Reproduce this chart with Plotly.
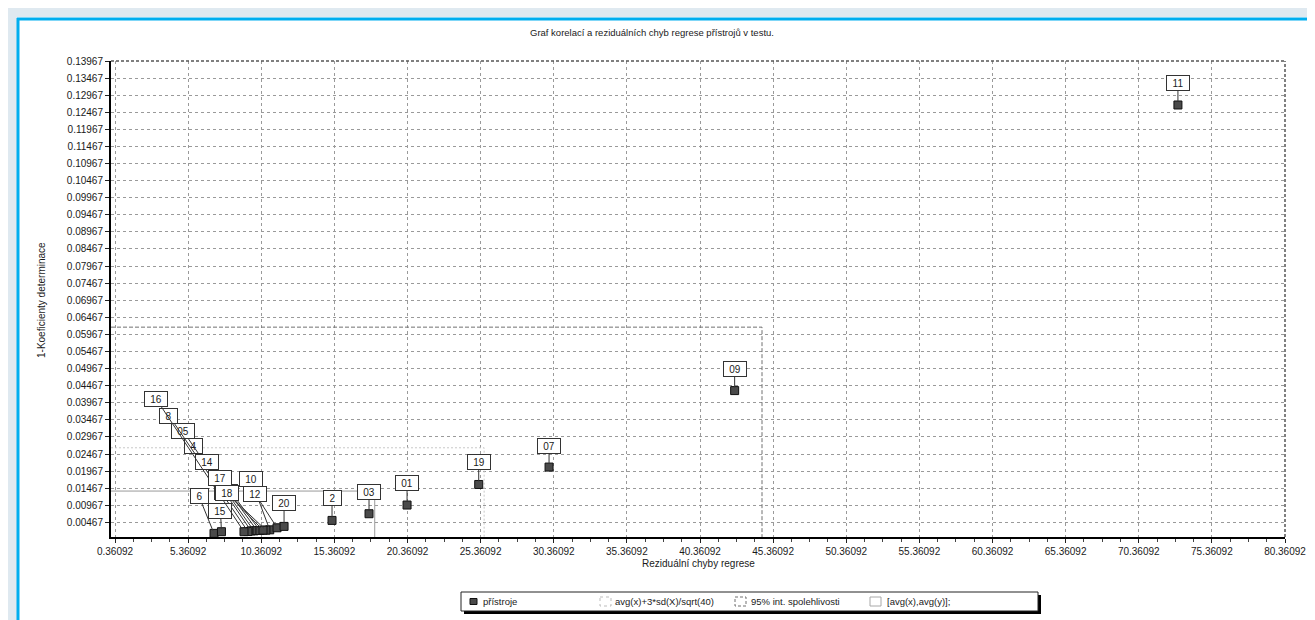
import plotly.graph_objects as go

# ---------------- data ----------------
names = ["01", "2", "03", "4", "05", "6", "07", "8", "09", "10",
         "11", "12", "13", "14", "15", "16", "17", "18", "19", "20"]
resid = [20.33, 15.20, 17.73, 9.86, 9.66, 7.13, 30.04, 9.45, 42.73, 10.94,
         73.04, 11.44, 10.68, 10.07, 7.64, 9.18, 10.27, 10.48, 25.23, 11.92]
one_minus_r2 = [0.00975, 0.00525, 0.00721, 0.0022, 0.0022, 0.00146, 0.02086, 0.0020, 0.04324, 0.0025,
                0.1268, 0.0031, 0.0024, 0.0023, 0.00195, 0.00195, 0.0023, 0.0024, 0.01577, 0.0035]

# reference rectangles (corner values)
avg_xy = (18.12, 0.01384)        # [avg(x),avg(y)]
lim3sd_xy = (25.6, 0.0265)       # avg(x)+3*sd(X)/sqrt(40)
ci95_xy = (44.6, 0.0618)         # 95% int. spolehlivosti

x_ticks = [0.36092 + 5 * k for k in range(17)]
y_ticks = [0.00467 + 0.005 * k for k in range(28)]
x_tick_text = ["%.5f" % v for v in x_ticks]
y_tick_text = ["%.5f" % v for v in y_ticks]

title_text = "Graf korelací a reziduálních chyb regrese přístrojů v testu."
x_title = "Reziduální chyby regrese"
y_title = "1-Koeficienty determinace"
legend_labels = ["přístroje", "avg(x)+3*sd(X)/sqrt(40)", "95% int. spolehlivosti", "[avg(x),avg(y)];"]

# label offsets (pixels, layout only)
label_offsets = {
    "01": (0, -22), "2": (0, -22), "03": (0, -22), "07": (0, -21), "09": (0, -22),
    "11": (0, -22), "19": (0, -22), "6": (-15, -37), "15": (-1, -21),
    "16": (-88, -133), "8": (-79, -116), "05": (-68, -100), "4": (-60, -85),
    "14": (-50, -69), "17": (-40, -53), "13": (-40, -38), "18": (-36, -37),
    "10": (-19, -51), "12": (-22, -34), "20": (0, -23),
}

XMIN, XMAX = 0.087, 80.36092
YMIN, YMAX = 0.0004, 0.13967

W, H = 1315, 620
L, R, T, B = 103, 38, 53, 91
PW, PH = W - L - R, H - T - B


def px(x):
    return (x - L) / PW


def py(y):
    return (H - B - y) / PH


FONT = "Liberation Sans, Arial, sans-serif"
TXT = "#1a1a1a"

fig = go.Figure()

# reference rectangles
def rect_trace(cx, cy, color, dash, width):
    return go.Scatter(x=[XMIN, cx, cx], y=[cy, cy, YMIN], mode="lines",
                      line=dict(color=color, dash=dash, width=width),
                      hoverinfo="skip", showlegend=False)

fig.add_trace(rect_trace(*lim3sd_xy, "#c8c8c8", "2px,2px", 1))
fig.add_trace(rect_trace(*ci95_xy, "#707070", "4px,2px", 1))
fig.add_trace(rect_trace(*avg_xy, "#9a9a9a", "solid", 1))

fig.add_trace(go.Scatter(
    x=resid, y=one_minus_r2, mode="markers", text=names,
    marker=dict(symbol="square", size=8, color="#4a4a4a",
                line=dict(color="#111", width=1)),
    showlegend=False, hovertemplate="%{text}: %{x}, %{y}<extra></extra>"))

annotations = []
order = [n for n in names if n not in ("18",)] + ["18"]
for n in order:
    i = names.index(n)
    ax, ay = label_offsets[n]
    annotations.append(dict(
        x=resid[i], y=one_minus_r2[i], xref="x", yref="y",
        text=n, showarrow=True, arrowhead=0, arrowwidth=1, arrowcolor="#333",
        ax=ax, ay=ay, standoff=3,
        bgcolor="white", bordercolor="#333", borderwidth=1, borderpad=2,
        width=18 if len(n) == 2 else 13, height=10,
        font=dict(family=FONT, size=10, color=TXT)))

# titles
annotations.append(dict(x=px(520), y=py(25), xref="paper", yref="paper",
                        xanchor="left", yanchor="middle", showarrow=False,
                        text=title_text, font=dict(family=FONT, size=9.5, color=TXT)))
annotations.append(dict(x=px(691), y=py(555), xref="paper", yref="paper",
                        xanchor="center", yanchor="middle", showarrow=False,
                        text=x_title, font=dict(family=FONT, size=10, color=TXT)))
annotations.append(dict(x=px(33), y=py(292), xref="paper", yref="paper",
                        xanchor="center", yanchor="middle", showarrow=False, textangle=-90,
                        text=y_title, font=dict(family=FONT, size=10, color=TXT)))

shapes = []
# page frame
shapes.append(dict(type="rect", xref="paper", yref="paper", x0=px(0), x1=px(9), y0=py(0), y1=py(H),
                   fillcolor="#dfe9f0", line=dict(width=0), layer="below"))
shapes.append(dict(type="rect", xref="paper", yref="paper", x0=px(0), x1=px(W), y0=py(0), y1=py(9),
                   fillcolor="#dfe9f0", line=dict(width=0), layer="below"))
shapes.append(dict(type="line", xref="paper", yref="paper", x0=px(10), x1=px(10), y0=py(10), y1=py(H),
                   line=dict(color="#00aeef", width=3)))
shapes.append(dict(type="line", xref="paper", yref="paper", x0=px(9), x1=px(W), y0=py(11), y1=py(11),
                   line=dict(color="#00aeef", width=3)))
# plot top / right borders
shapes.append(dict(type="line", xref="paper", yref="paper", x0=0, x1=1, y0=1, y1=1,
                   line=dict(color="#555", width=1.5, dash="3px,2px")))
shapes.append(dict(type="line", xref="paper", yref="paper", x0=1, x1=1, y0=0, y1=1,
                   line=dict(color="#555", width=1.5, dash="3px,2px")))

# legend box
lx0, lx1, ly0, ly1 = 453, 1030, 584, 603
shapes.append(dict(type="rect", xref="paper", yref="paper", x0=px(lx0 + 3), x1=px(lx1 + 3),
                   y0=py(ly0 + 3), y1=py(ly1 + 3), fillcolor="#000", line=dict(width=0)))
shapes.append(dict(type="rect", xref="paper", yref="paper", x0=px(lx0), x1=px(lx1),
                   y0=py(ly0), y1=py(ly1), fillcolor="white", line=dict(color="#222", width=1)))
ymid = 593.5
shapes.append(dict(type="rect", xref="paper", yref="paper", x0=px(462), x1=px(469),
                   y0=py(ymid - 3), y1=py(ymid + 3), fillcolor="#4a4a4a", line=dict(color="#111", width=1)))
icon_styles = [(592, "#bdbdbd", "dot"), (727, "#707070", "3px,2px"), (862, "#a8a8a8", "solid")]
for x0, col, dash in icon_styles:
    shapes.append(dict(type="rect", xref="paper", yref="paper", x0=px(x0), x1=px(x0 + 11),
                       y0=py(ymid - 4.5), y1=py(ymid + 4.5), fillcolor="white",
                       line=dict(color=col, width=1, dash=dash)))
for lx, txt in zip([473, 605, 741, 877], legend_labels):
    annotations.append(dict(x=px(lx), y=py(ymid), xref="paper", yref="paper",
                            xanchor="left", yanchor="middle", showarrow=False,
                            text=txt, font=dict(family=FONT, size=9.5, color=TXT)))

fig.update_layout(
    width=W, height=H,
    margin=dict(l=L, r=R, t=T, b=B, pad=0),
    paper_bgcolor="white", plot_bgcolor="white",
    showlegend=False,
    annotations=annotations, shapes=shapes,
    font=dict(family=FONT, size=10, color=TXT),
)
grid = dict(showgrid=True, gridcolor="#9a9a9a", gridwidth=1, griddash="3px,3px")
fig.update_xaxes(range=[XMIN, XMAX], tickmode="array", tickvals=x_ticks, ticktext=x_tick_text,
                 ticks="outside", ticklen=4, tickcolor="#222", showline=True, linecolor="#000",
                 linewidth=2, zeroline=False,
                 minor=dict(tick0=0.36092, dtick=1.25, ticks="outside", ticklen=3, tickcolor="#444",
                            showgrid=False),
                 tickfont=dict(family=FONT, size=10, color=TXT), **grid)
fig.update_yaxes(range=[YMIN, YMAX], tickmode="array", tickvals=y_ticks, ticktext=y_tick_text,
                 ticks="outside", ticklen=4, tickcolor="#222", showline=True, linecolor="#000",
                 linewidth=2, zeroline=False,
                 tickfont=dict(family=FONT, size=10, color=TXT), **grid)

fig.write_html("out.html")
